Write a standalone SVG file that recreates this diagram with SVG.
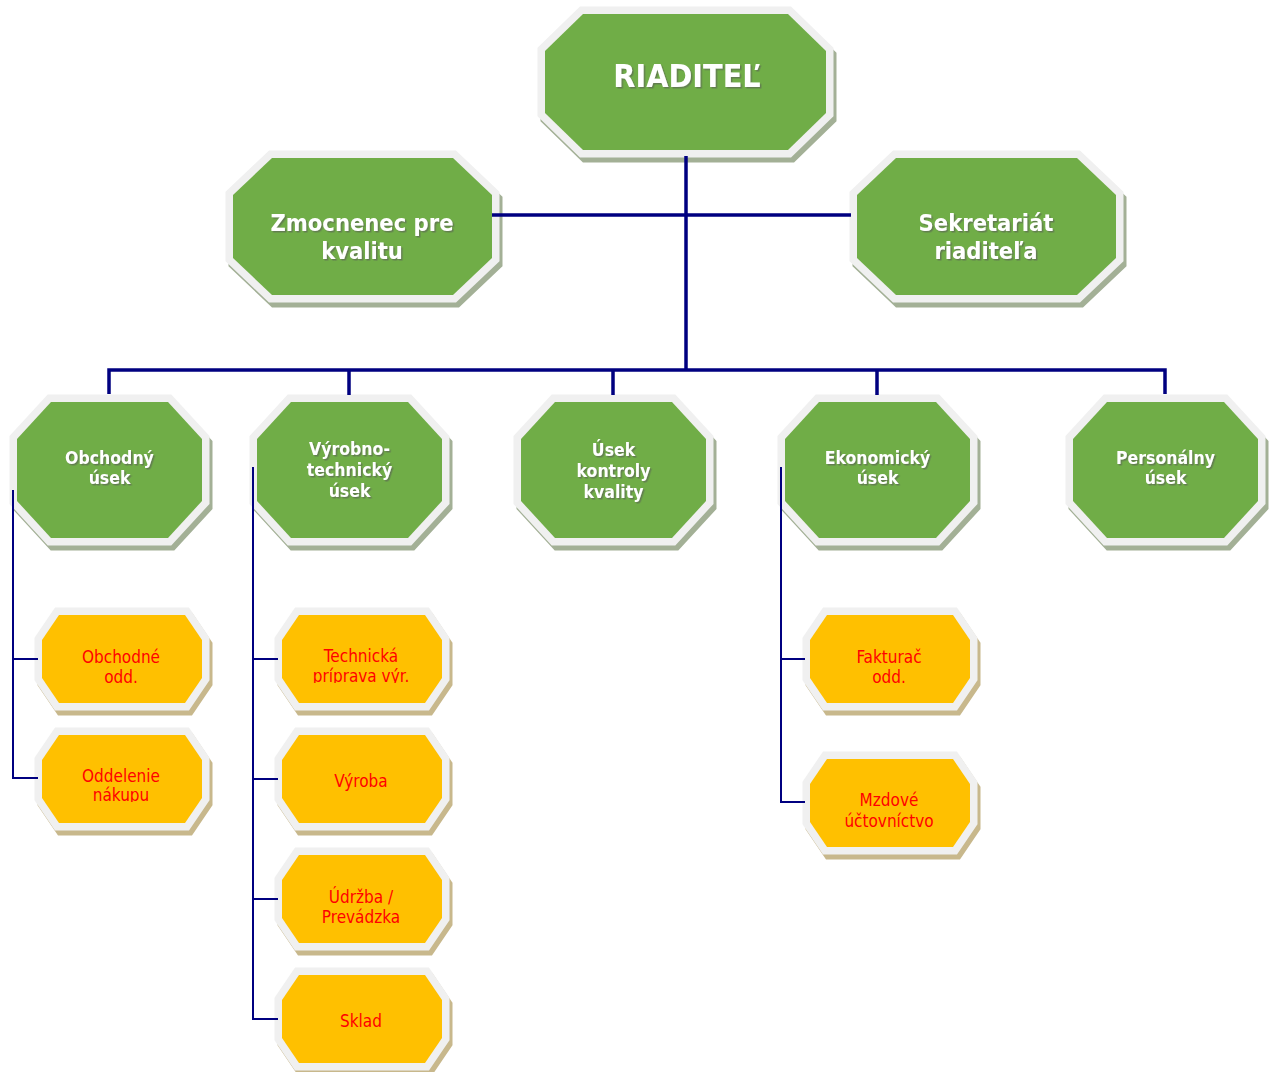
<svg xmlns="http://www.w3.org/2000/svg" xmlns:xlink="http://www.w3.org/1999/xlink" width="1270" height="1072" viewBox="0 0 1270 1072">
<defs>
<style>
.gs{fill:#a3b096;stroke:#a3b096;stroke-width:15;stroke-linejoin:miter}
.ys{fill:#c8b88c;stroke:#c8b88c;stroke-width:15;stroke-linejoin:miter}
.bd{fill:#f0f0f0;stroke:#f0f0f0;stroke-width:15;stroke-linejoin:miter}
.gf{fill:#70ad47}
.yf{fill:#ffc000}
.gt{font-family:"DejaVu Sans Condensed","DejaVu Sans",sans-serif;font-weight:bold;fill:#ffffff;text-anchor:middle;filter:url(#ts)}
.yt{font-family:"DejaVu Sans Condensed","DejaVu Sans",sans-serif;font-size:17px;fill:#ff0000;text-anchor:middle}
.l2{font-size:17.5px}
.l1{font-size:23.5px}
.main{fill:none;stroke:#000080;stroke-width:3.5;stroke-linejoin:miter}
.sub{fill:none;stroke:#000080;stroke-width:2}
</style>
<filter id="ts" x="-10%" y="-30%" width="130%" height="170%">
<feDropShadow dx="1.5" dy="1.5" stdDeviation="0.6" flood-color="#555555" flood-opacity="0.55"/>
</filter>
<polygon id="octG" points="34,0 151,0 185,37 185,99 151,136 34,136 0,99 0,37"/>
<polygon id="octY" points="17,0 143,0 160,25 160,63 143,88 17,88 0,63 0,25"/>
<clipPath id="clipA2"><rect x="42" y="735" width="160" height="67"/></clipPath>
<clipPath id="clipB1"><rect x="282" y="615" width="160" height="68"/></clipPath>
</defs>

<g id="node-riaditel">
<polygon class="gs" transform="translate(3,5)" points="583,14 788,14 826,51 826,113 788,150 583,150 545,113 545,51"/>
<polygon class="bd" points="583,14 788,14 826,51 826,113 788,150 583,150 545,113 545,51"/>
<polygon class="gf" points="583,14 788,14 826,51 826,113 788,150 583,150 545,113 545,51"/>
<text class="gt" x="687" y="87" font-size="32">RIADITEĽ</text>
</g>

<g id="node-zmocnenec">
<polygon class="gs" transform="translate(3,5)" points="272,158 453,158 492,195 492,258 453,295 272,295 233,258 233,195"/>
<polygon class="bd" points="272,158 453,158 492,195 492,258 453,295 272,295 233,258 233,195"/>
<polygon class="gf" points="272,158 453,158 492,195 492,258 453,295 272,295 233,258 233,195"/>
<text class="gt l1" x="362" y="231">Zmocnenec pre</text>
<text class="gt l1" x="362" y="259">kvalitu</text>
</g>

<g id="node-sekretariat">
<polygon class="gs" transform="translate(3,5)" points="896,158 1077,158 1116,195 1116,258 1077,295 896,295 857,258 857,195"/>
<polygon class="bd" points="896,158 1077,158 1116,195 1116,258 1077,295 896,295 857,258 857,195"/>
<polygon class="gf" points="896,158 1077,158 1116,195 1116,258 1077,295 896,295 857,258 857,195"/>
<text class="gt l1" x="986" y="231">Sekretariát</text>
<text class="gt l1" x="986" y="259">riaditeľa</text>
</g>

<g id="node-obchodny">
<use href="#octG" class="gs" transform="translate(20,407)"/>
<use href="#octG" class="bd" transform="translate(17,402)"/>
<use href="#octG" class="gf" transform="translate(17,402)"/>
<text class="gt l2" x="109.5" y="464">Obchodný</text>
<text class="gt l2" x="109.5" y="484">úsek</text>
</g>

<g id="node-vyrobno">
<use href="#octG" class="gs" transform="translate(260,407)"/>
<use href="#octG" class="bd" transform="translate(257,402)"/>
<use href="#octG" class="gf" transform="translate(257,402)"/>
<text class="gt l2" x="349.5" y="455">Výrobno-</text>
<text class="gt l2" x="349.5" y="476">technický</text>
<text class="gt l2" x="349.5" y="497">úsek</text>
</g>

<g id="node-kontrola">
<use href="#octG" class="gs" transform="translate(524,407)"/>
<use href="#octG" class="bd" transform="translate(521,402)"/>
<use href="#octG" class="gf" transform="translate(521,402)"/>
<text class="gt l2" x="613.5" y="456">Úsek</text>
<text class="gt l2" x="613.5" y="477">kontroly</text>
<text class="gt l2" x="613.5" y="498">kvality</text>
</g>

<g id="node-ekonomicky">
<use href="#octG" class="gs" transform="translate(788,407)"/>
<use href="#octG" class="bd" transform="translate(785,402)"/>
<use href="#octG" class="gf" transform="translate(785,402)"/>
<text class="gt l2" x="877.5" y="464">Ekonomický</text>
<text class="gt l2" x="877.5" y="484">úsek</text>
</g>

<g id="node-personalny">
<use href="#octG" class="gs" transform="translate(1076,407)"/>
<use href="#octG" class="bd" transform="translate(1073,402)"/>
<use href="#octG" class="gf" transform="translate(1073,402)"/>
<text class="gt l2" x="1165.5" y="464">Personálny</text>
<text class="gt l2" x="1165.5" y="484">úsek</text>
</g>

<g id="node-obchodne-odd">
<use href="#octY" class="ys" transform="translate(45,620)"/>
<use href="#octY" class="bd" transform="translate(42,615)"/>
<use href="#octY" class="yf" transform="translate(42,615)"/>
<text class="yt" x="121" y="663">Obchodné</text>
<text class="yt" x="121" y="683">odd.</text>
</g>

<g id="node-nakup">
<use href="#octY" class="ys" transform="translate(45,740)"/>
<use href="#octY" class="bd" transform="translate(42,735)"/>
<use href="#octY" class="yf" transform="translate(42,735)"/>
<g clip-path="url(#clipA2)">
<text class="yt" x="121" y="782">Oddelenie</text>
<text class="yt" x="121" y="801">nákupu</text>
</g>
</g>

<g id="node-technicka">
<use href="#octY" class="ys" transform="translate(285,620)"/>
<use href="#octY" class="bd" transform="translate(282,615)"/>
<use href="#octY" class="yf" transform="translate(282,615)"/>
<g clip-path="url(#clipB1)">
<text class="yt" x="361" y="662">Technická</text>
<text class="yt" x="361" y="682">príprava výr.</text>
</g>
</g>

<g id="node-vyroba">
<use href="#octY" class="ys" transform="translate(285,740)"/>
<use href="#octY" class="bd" transform="translate(282,735)"/>
<use href="#octY" class="yf" transform="translate(282,735)"/>
<text class="yt" x="361" y="787">Výroba</text>
</g>

<g id="node-udrzba">
<use href="#octY" class="ys" transform="translate(285,860)"/>
<use href="#octY" class="bd" transform="translate(282,855)"/>
<use href="#octY" class="yf" transform="translate(282,855)"/>
<text class="yt" x="361" y="903">Údržba /</text>
<text class="yt" x="361" y="923">Prevádzka</text>
</g>

<g id="node-sklad">
<use href="#octY" class="ys" transform="translate(285,980)"/>
<use href="#octY" class="bd" transform="translate(282,975)"/>
<use href="#octY" class="yf" transform="translate(282,975)"/>
<text class="yt" x="361" y="1027">Sklad</text>
</g>

<g id="node-fakturac">
<use href="#octY" class="ys" transform="translate(813,620)"/>
<use href="#octY" class="bd" transform="translate(810,615)"/>
<use href="#octY" class="yf" transform="translate(810,615)"/>
<text class="yt" x="889" y="663">Fakturač</text>
<text class="yt" x="889" y="683">odd.</text>
</g>

<g id="node-mzdove">
<use href="#octY" class="ys" transform="translate(813,764)"/>
<use href="#octY" class="bd" transform="translate(810,759)"/>
<use href="#octY" class="yf" transform="translate(810,759)"/>
<text class="yt" x="889" y="806">Mzdové</text>
<text class="yt" x="889" y="827">účtovníctvo</text>
</g>

<g id="connectors">
<path class="main" d="M686,156 V370"/>
<path class="main" d="M492,215 H851"/>
<path class="main" d="M109,394 V370 H1165 V394"/>
<path class="main" d="M349,370 V395 M613,370 V395 M877,370 V395"/>
<path class="sub" d="M13,490 V778 H38 M13,659 H38"/>
<path class="sub" d="M253,467 V1019 H278 M253,659 H278 M253,779 H278 M253,899 H278"/>
<path class="sub" d="M781,467 V802 H805 M781,659 H805"/>
</g>
</svg>
